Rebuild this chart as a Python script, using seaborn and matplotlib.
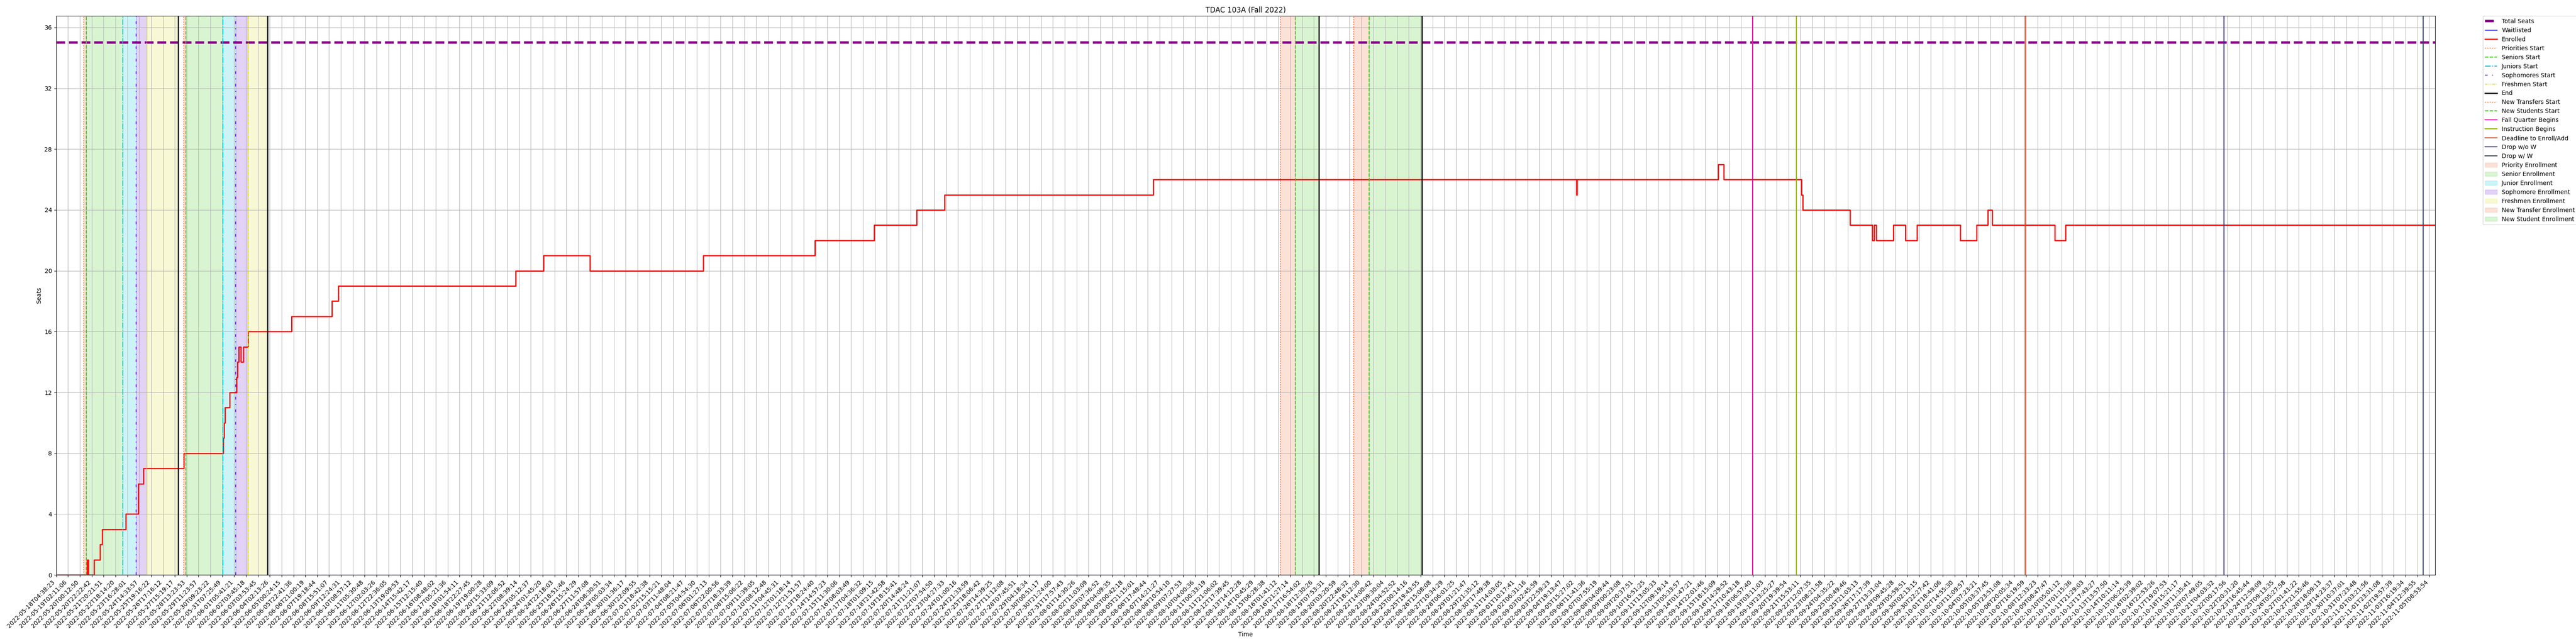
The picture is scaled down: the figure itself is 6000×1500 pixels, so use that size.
import matplotlib
matplotlib.use("Agg")
import matplotlib.pyplot as plt
import seaborn as sns
import pandas as pd

# x positions are in "tick units": tick k is the k-th labelled sample
title = "TDAC 103A (Fall 2022)"
total_seats = 35

# tick labels: 0-20, 102-118 (time part) and 194-200 were read off the chart,
# the rest are too small to read and are estimated
tick_labels = [
    "2022-05-18T04:38:23", "2022-05-19T02:11:06", "2022-05-20T00:12:50", "2022-05-20T22:22:42", "2022-05-21T20:21:51",
    "2022-05-22T18:14:20", "2022-05-23T16:28:01", "2022-05-24T14:33:57", "2022-05-25T19:16:22", "2022-05-26T17:16:12",
    "2022-05-27T15:19:17", "2022-05-28T13:23:53", "2022-05-29T11:23:57", "2022-05-30T09:23:22", "2022-05-31T07:25:49",
    "2022-06-01T05:41:21", "2022-06-02T03:45:18", "2022-06-03T03:53:45", "2022-06-04T02:13:26", "2022-06-05T00:24:15",
    "2022-06-05T22:41:36", "2022-06-06T21:00:19", "2022-06-07T19:18:44", "2022-06-08T15:51:07", "2022-06-09T12:24:31",
    "2022-06-10T08:57:12", "2022-06-11T05:30:48", "2022-06-12T02:03:26", "2022-06-12T22:36:05", "2022-06-13T19:09:53",
    "2022-06-14T15:42:17", "2022-06-15T12:15:40", "2022-06-16T08:48:02", "2022-06-17T05:21:36", "2022-06-18T01:54:11",
    "2022-06-18T22:27:45", "2022-06-19T19:00:28", "2022-06-20T15:33:09", "2022-06-21T12:06:52", "2022-06-22T08:39:14",
    "2022-06-23T05:12:37", "2022-06-24T01:45:20", "2022-06-24T22:18:03", "2022-06-25T18:51:46", "2022-06-26T15:24:29",
    "2022-06-27T11:57:08", "2022-06-28T08:30:51", "2022-06-29T05:03:34", "2022-06-30T01:36:17", "2022-06-30T22:09:55",
    "2022-07-01T18:42:38", "2022-07-02T15:15:21", "2022-07-03T11:48:04", "2022-07-04T08:21:47", "2022-07-05T04:54:30",
    "2022-07-06T01:27:13", "2022-07-06T22:00:56", "2022-07-07T18:33:39", "2022-07-08T15:06:22", "2022-07-09T11:39:05",
    "2022-07-10T08:12:48", "2022-07-11T04:45:31", "2022-07-12T01:18:14", "2022-07-12T21:51:57", "2022-07-13T18:24:40",
    "2022-07-14T14:57:23", "2022-07-15T11:30:06", "2022-07-16T08:03:49", "2022-07-17T04:36:32", "2022-07-18T01:09:15",
    "2022-07-18T21:42:58", "2022-07-19T18:15:41", "2022-07-20T14:48:24", "2022-07-21T11:21:07", "2022-07-22T07:54:50",
    "2022-07-23T04:27:33", "2022-07-24T01:00:16", "2022-07-24T21:33:59", "2022-07-25T18:06:42", "2022-07-26T14:39:25",
    "2022-07-27T11:12:08", "2022-07-28T07:45:51", "2022-07-29T04:18:34", "2022-07-30T00:51:17", "2022-07-30T21:24:00",
    "2022-07-31T17:57:43", "2022-08-01T14:30:26", "2022-08-02T11:03:09", "2022-08-03T07:36:52", "2022-08-04T04:09:35",
    "2022-08-05T00:42:18", "2022-08-05T21:15:01", "2022-08-06T17:48:44", "2022-08-07T14:21:27", "2022-08-08T10:54:10",
    "2022-08-09T07:27:53", "2022-08-10T04:00:36", "2022-08-11T00:33:19", "2022-08-11T21:06:02", "2022-08-12T17:39:45",
    "2022-08-13T14:12:28", "2022-08-14T10:45:29", "2022-08-15T06:28:38", "2022-08-16T01:41:12", "2022-08-16T21:27:14",
    "2022-08-17T16:54:02", "2022-08-18T12:30:26", "2022-08-19T07:53:31", "2022-08-20T03:20:59", "2022-08-20T22:48:32",
    "2022-08-21T18:12:30", "2022-08-22T14:00:42", "2022-08-23T09:30:04", "2022-08-24T04:52:52", "2022-08-25T00:14:16",
    "2022-08-25T19:43:55", "2022-08-26T15:08:08", "2022-08-27T10:34:29", "2022-08-28T06:01:25", "2022-08-29T01:21:47",
    "2022-08-29T21:35:12", "2022-08-30T17:49:38", "2022-08-31T14:03:05", "2022-09-01T10:17:41", "2022-09-02T06:31:16",
    "2022-09-03T02:45:59", "2022-09-03T22:59:23", "2022-09-04T19:13:47", "2022-09-05T15:27:02", "2022-09-06T11:41:36",
    "2022-09-07T07:55:19", "2022-09-08T04:09:44", "2022-09-09T00:23:08", "2022-09-09T20:37:51", "2022-09-10T16:51:25",
    "2022-09-11T13:05:33", "2022-09-12T09:19:14", "2022-09-13T05:33:57", "2022-09-14T01:47:21", "2022-09-14T22:01:46",
    "2022-09-15T18:15:09", "2022-09-16T14:29:52", "2022-09-17T10:43:18", "2022-09-18T06:57:40", "2022-09-19T03:11:03",
    "2022-09-19T23:25:27", "2022-09-20T19:39:54", "2022-09-21T15:53:11", "2022-09-22T12:07:35", "2022-09-23T08:21:58",
    "2022-09-24T04:35:22", "2022-09-25T00:49:46", "2022-09-25T21:03:13", "2022-09-26T17:17:39", "2022-09-27T13:31:04",
    "2022-09-28T09:45:28", "2022-09-29T05:59:51", "2022-09-30T02:13:15", "2022-09-30T22:27:42", "2022-10-01T18:41:06",
    "2022-10-02T14:55:30", "2022-10-03T11:09:57", "2022-10-04T07:23:21", "2022-10-05T03:37:45", "2022-10-05T23:51:08",
    "2022-10-06T20:05:34", "2022-10-07T16:19:59", "2022-10-08T12:33:23", "2022-10-09T08:47:47", "2022-10-10T05:01:12",
    "2022-10-11T01:15:36", "2022-10-11T21:29:03", "2022-10-12T17:43:27", "2022-10-13T13:57:50", "2022-10-14T10:11:14",
    "2022-10-15T06:25:39", "2022-10-16T02:39:02", "2022-10-16T22:53:26", "2022-10-17T19:07:53", "2022-10-18T15:21:17",
    "2022-10-19T11:35:41", "2022-10-20T07:49:05", "2022-10-21T04:03:32", "2022-10-22T00:17:56", "2022-10-22T20:31:20",
    "2022-10-23T16:45:44", "2022-10-24T12:59:09", "2022-10-25T09:13:35", "2022-10-26T05:27:58", "2022-10-27T01:41:22",
    "2022-10-27T21:55:46", "2022-10-28T18:09:13", "2022-10-29T14:23:37", "2022-10-30T10:37:01", "2022-10-31T07:23:48",
    "2022-11-01T03:21:56", "2022-11-01T23:31:08", "2022-11-02T19:57:39", "2022-11-03T16:19:34", "2022-11-04T12:39:55",
    "2022-11-05T08:53:54",
]
x_end = 200.49

# enrolled count, value holds from x until the next x
enrolled_x = [0, 2.62, 2.71, 3.18, 3.69, 3.89, 5.86, 6.93, 7.34, 10.77,
              14.07, 14.14, 14.22, 14.61, 15.19, 15.27, 15.37, 15.56, 15.77, 16.19,
              19.82, 23.23, 23.78, 38.74, 41.09, 44.97, 54.52, 63.93, 68.92, 72.52,
              74.87, 92.46, 128.13, 128.16, 140.08, 140.56, 147.08, 147.21, 151.18, 153.07,
              153.19, 153.38, 154.84, 155.84, 156.84, 160.48, 161.87, 162.81, 163.16, 168.44,
              169.35, x_end]
enrolled_y = [0, 1, 0, 1, 2, 3, 4, 6, 7, 8,
              9, 10, 11, 12, 13, 14, 15, 14, 15, 16,
              17, 18, 19, 20, 21, 20, 21, 22, 23, 24,
              25, 26, 25, 26, 27, 26, 25, 24, 23, 22,
              23, 22, 23, 22, 23, 22, 23, 24, 23, 22,
              23, 23]
waitlisted_x = [0, x_end]
waitlisted_y = [0, 0]

# enrollment pass events
priorities_start = [2.34, 10.75]
seniors_start = [2.53, 10.93]
juniors_start = [5.61, 14.04]
sophomores_start = [6.73, 15.12]
freshmen_start = [7.63, 16.17]
pass_end = [10.29, 17.80]
new_transfers_start = [103.18, 109.37]
new_students_start = [104.44, 110.64]
new_pass_end = [106.43, 115.09]
fall_quarter_begins = 142.98
instruction_begins = 146.64
deadline_enroll_add = 165.95
drop_without_w = 182.69
drop_with_w = 199.48

c_prio = "#f26b38"
c_senior = "#3ccb1a"
c_junior = "#00c8d7"
c_soph = "#6a1fd6"
c_fresh = "#e0e030"

fig, ax = plt.subplots(figsize=(60, 15), dpi=100)
fig.subplots_adjust(left=0.0218, right=0.9453, bottom=0.1073, top=0.9751)

ax.axhline(total_seats, color="purple", linestyle="--", linewidth=4, label="Total Seats")

df_w = pd.DataFrame({"x": waitlisted_x, "y": waitlisted_y})
sns.lineplot(data=df_w, x="x", y="y", ax=ax, color="blue", linewidth=1,
             drawstyle="steps-post", estimator=None, sort=False, label="Waitlisted")
df_e = pd.DataFrame({"x": enrolled_x, "y": enrolled_y})
sns.lineplot(data=df_e, x="x", y="y", ax=ax, color="red", linewidth=2,
             drawstyle="steps-post", estimator=None, sort=False, label="Enrolled")

lw = 1.5
for i in range(2):
    ax.axvline(priorities_start[i], color=c_prio, linestyle=":", linewidth=lw, label="Priorities Start")
    ax.axvline(seniors_start[i], color=c_senior, linestyle="--", linewidth=lw, label="Seniors Start")
    ax.axvline(juniors_start[i], color=c_junior, linestyle="-.", linewidth=lw, label="Juniors Start")
    ax.axvline(sophomores_start[i], color=c_soph, linestyle=(0, (3, 5, 1, 5)), linewidth=lw, label="Sophomores Start")
    ax.axvline(freshmen_start[i], color=c_fresh, linestyle=(0, (3, 1, 1, 1, 1, 1)), linewidth=lw, label="Freshmen Start")
    ax.axvline(pass_end[i], color="black", linewidth=2, label="End")
for i in range(2):
    ax.axvline(new_transfers_start[i], color=c_prio, linestyle=":", linewidth=lw, label="New Transfers Start")
    ax.axvline(new_students_start[i], color=c_senior, linestyle="--", linewidth=lw, label="New Students Start")
    ax.axvline(new_pass_end[i], color="black", linewidth=2, label="End")
ax.axvline(fall_quarter_begins, color="#e0129a", linewidth=lw, label="Fall Quarter Begins")
ax.axvline(instruction_begins, color="#8db600", linewidth=lw, label="Instruction Begins")
ax.axvline(deadline_enroll_add, color="#d9441c", linewidth=lw, label="Deadline to Enroll/Add")
ax.axvline(drop_without_w, color="#2e2a86", linewidth=lw, label="Drop w/o W")
ax.axvline(drop_with_w, color="#2f3d5c", linewidth=lw, label="Drop w/ W")

for i in range(2):
    ax.axvspan(priorities_start[i], seniors_start[i], color=c_prio, alpha=0.2, label="Priority Enrollment")
    ax.axvspan(seniors_start[i], juniors_start[i], color=c_senior, alpha=0.2, label="Senior Enrollment")
    ax.axvspan(juniors_start[i], sophomores_start[i], color=c_junior, alpha=0.2, label="Junior Enrollment")
    ax.axvspan(sophomores_start[i], freshmen_start[i], color=c_soph, alpha=0.2, label="Sophomore Enrollment")
    ax.axvspan(freshmen_start[i], pass_end[i], color=c_fresh, alpha=0.2, label="Freshmen Enrollment")
for i in range(2):
    ax.axvspan(new_transfers_start[i], new_students_start[i], color=c_prio, alpha=0.2, label="New Transfer Enrollment")
    ax.axvspan(new_students_start[i], new_pass_end[i], color=c_senior, alpha=0.2, label="New Student Enrollment")

ax.set_xlim(0, x_end)
ax.set_ylim(0, total_seats * 1.05)
ax.set_yticks(range(0, 37, 4))
ax.set_xticks(range(len(tick_labels)))
ax.set_xticklabels(tick_labels, rotation=45, ha="right")
ax.grid(True)
ax.set_xlabel("Time")
ax.set_ylabel("Seats")
ax.set_title(title)

handles, labels = ax.get_legend_handles_labels()
uniq = {}
for h, l in zip(handles, labels):
    if l not in uniq:
        uniq[l] = h
ax.legend(uniq.values(), uniq.keys(), loc="upper left", bbox_to_anchor=(1.02, 1), borderaxespad=0)

fig.savefig("out.png", dpi=100)
